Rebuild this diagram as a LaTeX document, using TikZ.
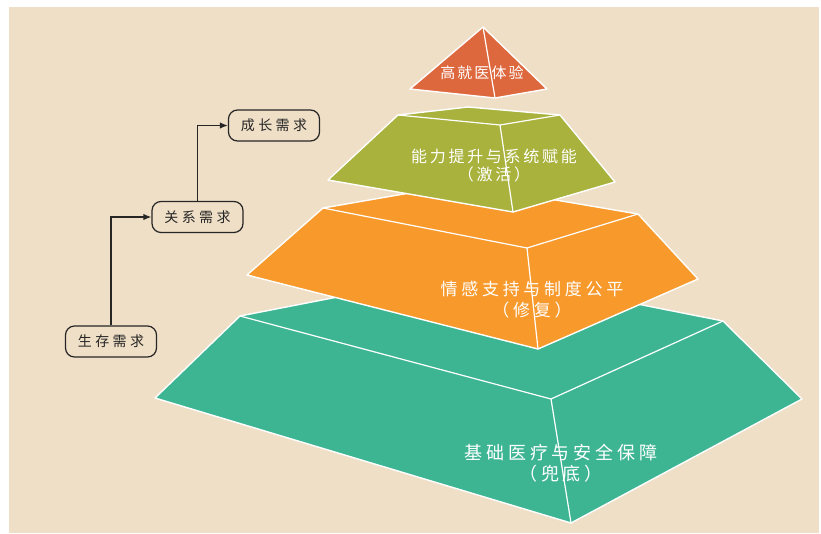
\documentclass[tikz,border=0pt]{standalone}
\usepackage{fontspec}
\setmainfont{Noto Sans CJK SC}
\newfontfamily\needfont[LetterSpace=24]{Noto Sans CJK SC}
\newfontfamily\pyrfont[LetterSpace=14]{Noto Sans CJK SC}
\newfontfamily\pyrfontg[LetterSpace=17]{Noto Sans CJK SC}
\newfontfamily\pyrfontw[LetterSpace=22]{Noto Sans CJK SC}
\usetikzlibrary{arrows.meta}
\definecolor{bgbeige}{RGB}{239,223,198}
\definecolor{topred}{RGB}{222,104,62}
\definecolor{olive}{RGB}{168,178,60}
\definecolor{orng}{RGB}{247,153,43}
\definecolor{teal2}{RGB}{61,181,147}
\tikzset{
  face/.style={draw=white, line width=1.4pt, line join=round},
  ridge/.style={draw=white, line width=1.2pt, line cap=round},
  need/.style={draw=black!85, line width=1.2pt, rounded corners=9pt,
    minimum width=91pt, minimum height=31pt, inner sep=0pt,
    font={\needfont\fontsize{14}{16}\selectfont}, text=black!85},
  flow/.style={-{Latex[length=8pt,width=6.5pt]}, line width=1.3pt, draw=black!85},
  lbl/.style={text=white, align=center, inner sep=0pt}
}
\begin{document}
\begin{tikzpicture}[x=1pt,y=-1pt]
\useasboundingbox (0,0) rectangle (821,533);
\fill[bgbeige] (9,7) rectangle (819,533);

% bottom tier (teal)
\coordinate (tBL) at (240,316);
\coordinate (tBB) at (471,271);
\coordinate (tBR) at (723,321);
\coordinate (tFT) at (551,399);
\coordinate (tL) at (155,398);
\coordinate (tR) at (802,399);
\coordinate (tFB) at (571,523);
\filldraw[face, fill=teal2] (tBL) -- (tBB) -- (tBR) -- (tR) -- (tFB) -- (tL) -- cycle;
\draw[ridge] (tBL) -- (tFT) -- (tBR);
\draw[ridge] (tFT) -- (tFB);

% third tier (orange)
\coordinate (oBL) at (323,208);
\coordinate (oBB) at (461.5,184);
\coordinate (oBR) at (638,214);
\coordinate (oFT) at (527,248);
\coordinate (oL) at (247,275);
\coordinate (oR) at (698,279);
\coordinate (oFB) at (538,349);
\filldraw[face, fill=orng] (oBL) -- (oBB) -- (oBR) -- (oR) -- (oFB) -- (oL) -- cycle;
\draw[ridge] (oBL) -- (oFT) -- (oBR);
\draw[ridge] (oFT) -- (oFB);

% second tier (olive)
\coordinate (gBL) at (398,115);
\coordinate (gBB) at (468,107);
\coordinate (gBR) at (560,115);
\coordinate (gFT) at (500,125);
\coordinate (gL) at (328,180);
\coordinate (gR) at (615,182);
\coordinate (gFB) at (513,212);
\filldraw[face, fill=olive] (gBL) -- (gBB) -- (gBR) -- (gR) -- (gFB) -- (gL) -- cycle;
\draw[ridge] (gBL) -- (gFT) -- (gBR);
\draw[ridge] (gFT) -- (gFB);

% top pyramid
\coordinate (pA) at (483,27);
\coordinate (pL) at (410,89);
\coordinate (pR) at (547,89);
\coordinate (pF) at (495,98);
\filldraw[face, fill=topred] (pA) -- (pR) -- (pF) -- (pL) -- cycle;
\draw[ridge] (pA) -- (pF);

% pyramid labels
\node[lbl, font={\pyrfont\fontsize{15}{17}\selectfont}] (ltop) at (482,73) {高就医体验};
\node[lbl, font={\pyrfontg\fontsize{16}{18}\selectfont}] (lgreen) at (494,166) {能力提升与系统赋能\\（激活）};
\node[lbl, font={\pyrfontw\fontsize{17}{21}\selectfont}] (lorange) at (532,299.5) {情感支持与制度公平\\（修复）};
\node[lbl, font={\pyrfontw\fontsize{18}{21}\selectfont}] (lteal) at (561,463.5) {基础医疗与安全保障\\（兜底）};

% needs flow
\node[need] (n1) at (111,341.5) {生存需求};
\node[need] (n2) at (197.5,217) {关系需求};
\node[need] (n3) at (274,125.5) {成长需求};
\draw[flow] (n1.north) |- (n2.west);
\draw[flow] (n2.north) |- (n3.west);
\end{tikzpicture}
\end{document}
